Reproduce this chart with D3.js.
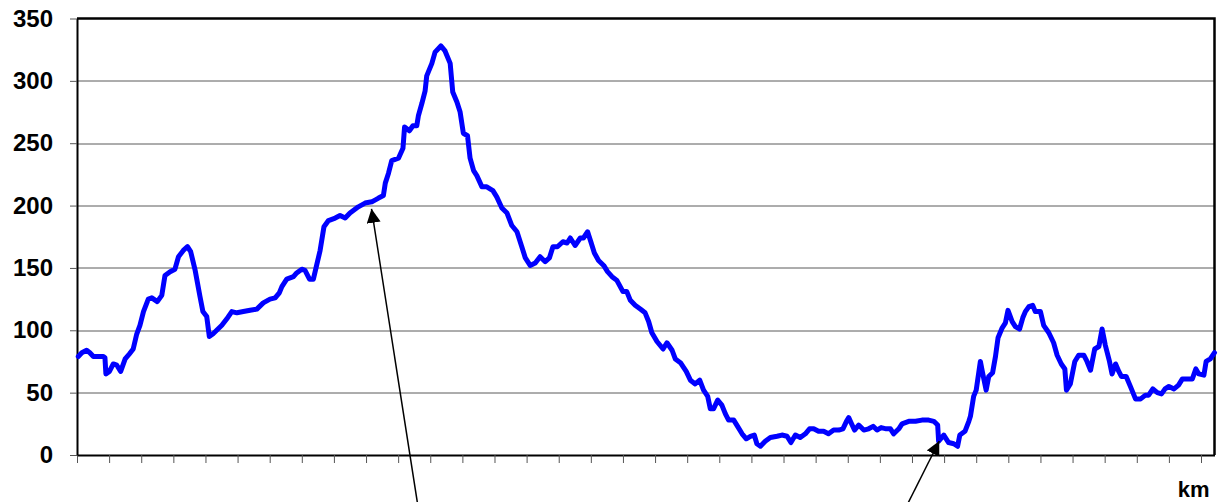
<!DOCTYPE html>
<html>
<head>
<meta charset="utf-8">
<script src="https://cdn.jsdelivr.net/npm/d3@7"></script>
<style>
  body { margin: 0; background: #fff; }
  .axis text { font-family: "Liberation Sans", Arial, sans-serif; font-weight: bold; font-size: 24px; fill: #000; }
  .axis .domain { stroke: #000; stroke-width: 2; }
  .axis .tick line { stroke: #555; }
  .grid line { stroke: #5a5a5a; stroke-width: 1; }
  .axis-label { font-family: "Liberation Sans", Arial, sans-serif; font-weight: bold; font-size: 22px; }
</style>
</head>
<body>
<div class="content"></div>
<script>
// distance along the route (km) and elevation (m)
const km = [
  0.4, 1.5, 3.0, 4.0, 5.1, 8.2, 8.7, 9.0, 10.1, 11.3, 12.4, 13.6, 15.0, 16.3, 17.5, 18.6, 19.6, 20.7,
  22.2, 23.3, 25.0, 26.4, 27.4, 29.0, 30.5, 31.6, 33.1, 34.4, 35.4, 36.8, 38.3, 39.2, 40.4, 41.2,
  42.3, 43.5, 45.1, 46.6, 48.2, 49.8, 51.8, 53.9, 56.0, 58.0, 60.1, 61.7, 63.0, 63.8, 65.3, 67.4,
  68.4, 70.0, 71.0, 72.4, 73.6, 74.7, 75.7, 76.9, 78.3, 80.4, 81.9, 83.5, 85.0, 87.6, 89.7, 91.8,
  93.9, 95.4, 96.0, 97.0, 98.0, 100.1, 101.5, 102.0, 103.5, 104.6, 105.8, 106.3, 107.4, 108.4,
  108.9, 110.5, 111.5, 113.3, 114.6, 116.2, 117.0, 118.3, 119.3, 120.3, 121.6, 122.4, 123.5, 124.5,
  126.1, 127.6, 129.5, 130.7, 132.3, 133.9, 135.4, 137.0, 138.5, 139.6, 141.1, 142.7, 144.2, 145.8,
  147.1, 148.2, 149.6, 151.3, 152.6, 153.6, 155.1, 156.7, 157.7, 159.0, 160.0, 161.1, 162.4, 164.0,
  165.2, 166.6, 168.1, 170.0, 171.2, 172.3, 173.8, 175.4, 176.9, 178.0, 179.0, 180.6, 182.5, 183.7,
  185.3, 186.3, 187.9, 189.7, 191.0, 192.5, 193.9, 195.1, 196.4, 197.2, 198.2, 199.5, 200.8, 201.9,
  202.9, 204.5, 205.7, 207.1, 208.4, 209.7, 210.9, 211.7, 212.8, 214.3, 215.9, 218.0, 219.5, 221.1,
  222.3, 223.7, 225.2, 226.8, 228.1, 229.4, 230.9, 232.5, 234.0, 235.6, 237.2, 238.5, 239.6, 240.3,
  241.0, 242.1, 243.4, 245.0, 246.5, 247.9, 249.1, 250.4, 252.0, 253.3, 254.3, 255.9, 256.9, 259.0,
  261.1, 263.1, 265.2, 266.8, 268.0, 268.3, 269.9, 271.4, 273.0, 274.2, 274.9, 276.5, 277.7, 278.2,
  279.2, 280.0, 281.3, 281.9, 283.1, 283.9, 285.1, 286.0, 286.8, 288.1, 289.1, 289.9, 291.2, 292.2,
  293.5, 294.5, 295.3, 296.4, 297.6, 298.4, 300.0, 301.0, 302.6, 304.1, 305.2, 306.5, 307.6, 308.1,
  309.3, 310.7, 311.9, 313.5, 314.5, 315.6, 316.9, 318.2, 319.2, 320.2, 321.5, 322.3, 323.4, 324.4,
  325.2, 326.7, 328.0, 329.6, 331.2, 332.7, 333.7, 335.0, 336.4, 337.7, 338.8, 340.0, 341.6, 343.0,
  344.2, 345.8, 347.3, 348.4, 349.3, 350.9, 351.6, 352.9, 354.2
];
const elevation = [
  79, 82, 84, 82, 79, 79, 78, 65, 67, 73, 72, 67, 77, 81, 85, 97, 104, 115,
  125, 126, 123, 128, 144, 147, 149, 159, 164, 167, 163, 148, 127, 115, 111, 95,
  97, 100, 104, 109, 115, 114, 115, 116, 117, 122, 125, 126, 130, 135, 141, 143,
  146, 149, 148, 141, 141, 153, 164, 183, 188, 190, 192, 190, 194, 199, 202, 203,
  206, 208, 218, 226, 236, 238, 246, 263, 260, 264, 264, 272, 282, 292,
  304, 314, 323, 328, 324, 314, 291, 283, 275, 258, 256, 238, 228, 224,
  215, 215, 212, 207, 198, 194, 184, 179, 167, 158, 152, 154, 159, 155,
  158, 167, 167, 171, 170, 174, 168, 174, 174, 179, 171, 162, 156, 152,
  147, 143, 140, 131, 131, 124, 120, 117, 114, 107, 98, 91, 85, 90,
  84, 77, 74, 67, 60, 57, 60, 52, 47, 37, 37, 44, 40, 33,
  28, 28, 23, 17, 13, 15, 16, 9, 7, 11, 14, 15, 16, 15,
  10, 16, 14, 17, 21, 21, 19, 19, 17, 20, 20, 21, 27, 30,
  26, 20, 24, 20, 21, 23, 20, 22, 21, 21, 17, 21, 25, 27,
  27, 28, 28, 27, 24, 11, 16, 10, 9, 7, 16, 19, 27, 31,
  47, 52, 75, 67, 52, 63, 66, 79, 94, 102, 106, 116, 107, 103,
  101, 110, 115, 119, 120, 115, 115, 104, 98, 90, 80, 73, 69, 52,
  57, 75, 80, 80, 75, 68, 85, 87, 101, 88, 75, 65, 73, 67,
  63, 63, 55, 45, 45, 48, 48, 53, 50, 49, 53, 55, 53, 56,
  61, 61, 61, 69, 65, 64, 75, 77, 82
];
const yTicks = [0, 50, 100, 150, 200, 250, 300, 350];
const kmMax = 354.2;

// annotation arrows: tip on the profile, tail below the axis
const arrowTipKm = [91.7, 268.5];
const arrowTipElev = [197.4, 11.2];
const arrowTailKm = [106.1, 258.5];
const arrowTailElev = [-40, -40];

const margin = { top: 18.5, right: 4.5, bottom: 47, left: 77 };
const width = 1219 - margin.left - margin.right;
const height = 502 - margin.top - margin.bottom;

const xScale = d3.scaleLinear().domain([0, kmMax]).range([0, width]);
const yScale = d3.scaleLinear().domain([0, 350]).range([height, 0]);

const svg = d3
  .select(".content")
  .append("svg")
  .attr("width", 1219)
  .attr("height", 502)
  .style("display", "block");

const svgContainer = svg
  .append("g")
  .attr("transform", `translate(${margin.left}, ${margin.top})`);

//--> Gridlines
svgContainer
  .append("g")
  .attr("class", "grid")
  .selectAll("line")
  .data(yTicks.filter(d => d > 0 && d < 350))
  .enter()
  .append("line")
  .attr("x1", 0)
  .attr("x2", width)
  .attr("y1", d => Math.round(yScale(d)) + 0.5)
  .attr("y2", d => Math.round(yScale(d)) + 0.5);

//--> Frame (top and right)
svgContainer
  .append("path")
  .attr("fill", "none")
  .attr("stroke", "#000")
  .attr("stroke-width", 2.5)
  .attr("d", `M0,${yScale(350)}H${width}V${height}`);

//--> X axis
svgContainer
  .append("g")
  .attr("class", "axis")
  .attr("transform", `translate(0, ${height})`)
  .call(
    d3.axisBottom(xScale)
      .tickValues(d3.range(0, 351, 10))
      .tickFormat("")
      .tickSize(8)
      .tickSizeOuter(0)
  );

//--> Y axis
svgContainer
  .append("g")
  .attr("class", "axis")
  .call(
    d3.axisLeft(yScale)
      .tickValues(yTicks)
      .tickSize(7)
      .tickSizeOuter(0)
      .tickPadding(17)
  );

//--> Profile line
const line = d3
  .line()
  .x((d, i) => xScale(km[i]))
  .y(d => yScale(d));

svgContainer
  .append("path")
  .datum(elevation)
  .attr("fill", "none")
  .attr("stroke", "#0000ff")
  .attr("stroke-width", 5)
  .attr("stroke-linejoin", "round")
  .attr("stroke-linecap", "round")
  .attr("d", line);

//--> Arrows
svg
  .append("defs")
  .append("marker")
  .attr("id", "arrowhead")
  .attr("markerUnits", "userSpaceOnUse")
  .attr("markerWidth", 16)
  .attr("markerHeight", 16)
  .attr("refX", 14)
  .attr("refY", 7)
  .attr("orient", "auto")
  .append("path")
  .attr("d", "M0,0L14,7L0,14Z")
  .attr("fill", "#000");

svgContainer
  .selectAll(".arrow")
  .data(arrowTipKm)
  .enter()
  .append("line")
  .attr("class", "arrow")
  .attr("x1", (d, i) => xScale(arrowTailKm[i]))
  .attr("y1", (d, i) => yScale(arrowTailElev[i]))
  .attr("x2", (d, i) => xScale(arrowTipKm[i]))
  .attr("y2", (d, i) => yScale(arrowTipElev[i]))
  .attr("stroke", "#000")
  .attr("stroke-width", 1.5)
  .attr("marker-end", "url(#arrowhead)");

//--> X axis label
svgContainer
  .append("text")
  .attr("class", "axis-label")
  .attr("x", width - 5)
  .attr("y", height + 42)
  .attr("text-anchor", "end")
  .text("km");
</script>
</body>
</html>
